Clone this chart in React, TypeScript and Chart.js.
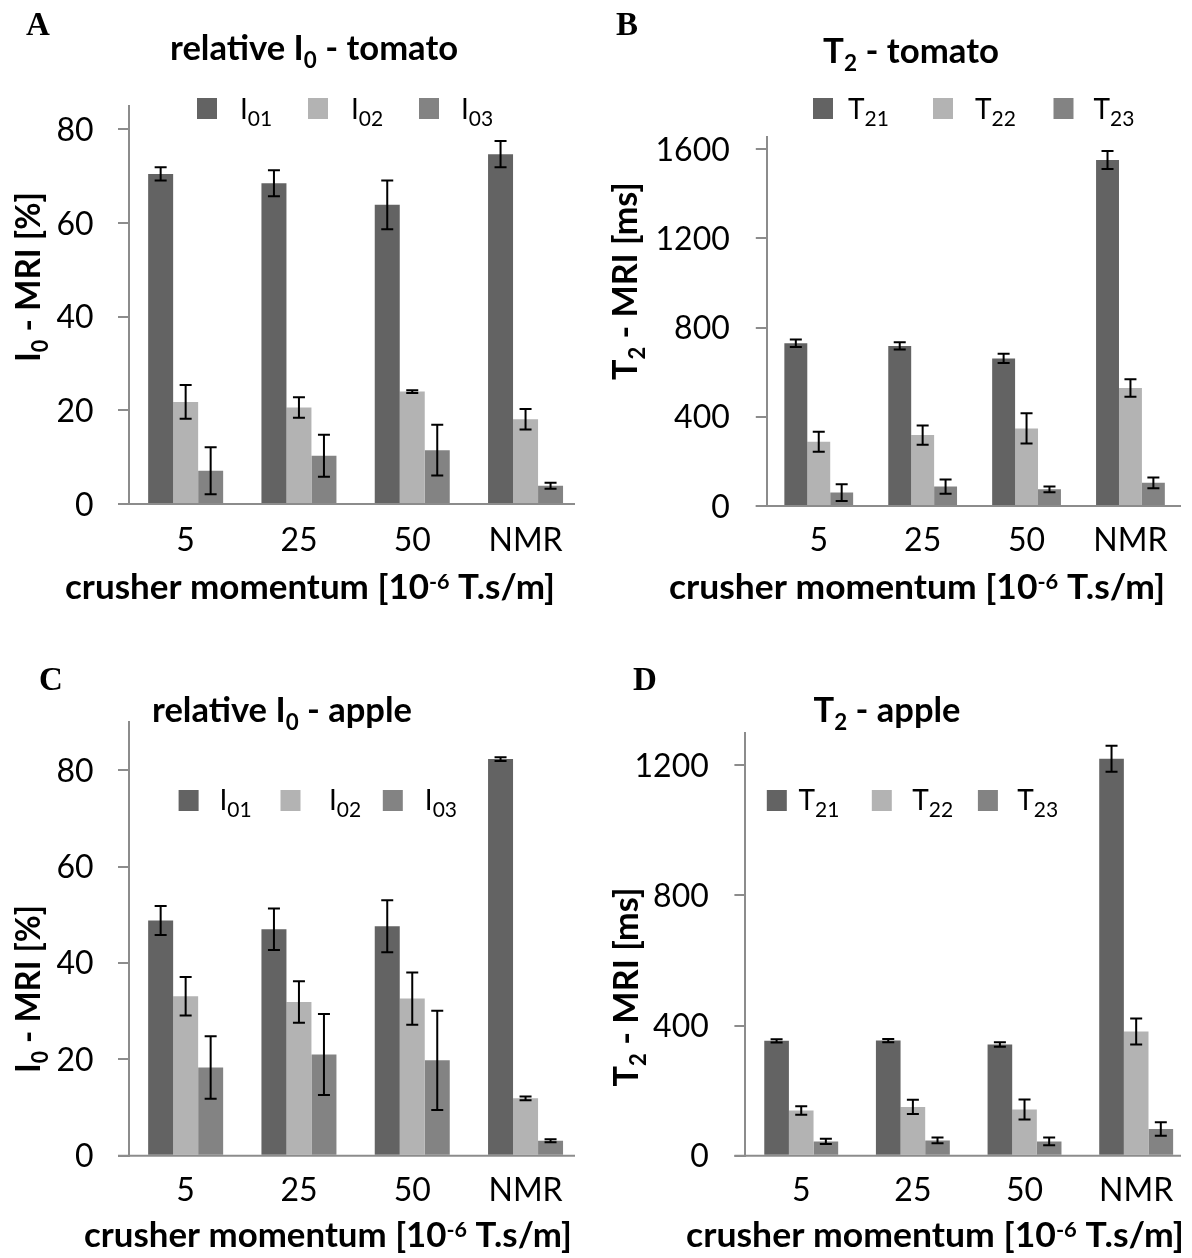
import React, { useEffect, useRef } from 'react';
import { Chart, registerables } from 'chart.js';

Chart.register(...registerables);

// ---------- data ----------
const categories = ['5', '25', '50', 'NMR'];

const tomatoI01 = [70.5, 68.5, 63.9, 74.7];
const tomatoI01Err = [1.4, 2.8, 5.2, 2.8];
const tomatoI02 = [21.8, 20.6, 24.0, 18.1];
const tomatoI02Err = [3.6, 2.2, 0.3, 2.2];
const tomatoI03 = [7.1, 10.3, 11.5, 3.9];
const tomatoI03Err = [5.0, 4.5, 5.4, 0.65];

const tomatoT21 = [730, 718, 662, 1552];
const tomatoT21Err = [17, 16, 21, 40];
const tomatoT22 = [288, 318, 348, 529];
const tomatoT22Err = [45, 43, 68, 39];
const tomatoT23 = [60, 87, 75, 104];
const tomatoT23Err = [38, 32, 13, 24];

const appleI01 = [48.8, 47.0, 47.6, 82.3];
const appleI01Err = [3.0, 4.3, 5.4, 0.4];
const appleI02 = [33.1, 31.9, 32.6, 11.9];
const appleI02Err = [4.0, 4.3, 5.4, 0.4];
const appleI03 = [18.3, 21.0, 19.8, 3.1];
const appleI03Err = [6.5, 8.4, 10.3, 0.3];

const appleT21 = [353, 354, 342, 1220];
const appleT21Err = [5, 5, 7, 40];
const appleT22 = [139, 150, 142, 382];
const appleT22Err = [13, 22, 31, 40];
const appleT23 = [44, 47, 44, 82];
const appleT23Err = [8, 9, 12, 21];

const iLegend = ['01', '02', '03'];
const tLegend = ['21', '22', '23'];

// y tick labels for each panel
const tomatoITicks = [0, 20, 40, 60, 80];
const tomatoTTicks = [0, 400, 800, 1200, 1600];
const appleITicks = [0, 20, 40, 60, 80];
const appleTTicks = [0, 400, 800, 1200];

// ---------- style ----------
const COLORS = ['#636363', '#b3b3b3', '#838383'];
const AXIS = '#8c8c8c';
const FONT = 'Lato';
const SERIF = '"Liberation Serif", "DejaVu Serif", serif';

type Seg = { t: string; size: number; bold?: boolean; dy?: number };

function segFont(s: Seg) {
  return `${s.bold ? 'bold ' : ''}${s.size}px ${FONT}`;
}
function measure(ctx: CanvasRenderingContext2D, segs: Seg[]) {
  let w = 0;
  for (const s of segs) {
    ctx.font = segFont(s);
    w += ctx.measureText(s.t).width;
  }
  return w;
}
function drawRich(
  ctx: CanvasRenderingContext2D,
  segs: Seg[],
  x: number,
  y: number,
  align: 'left' | 'center' | 'right',
  targetW?: number
) {
  const w = measure(ctx, segs);
  const sx = targetW ? targetW / w : 1;
  const total = w * sx;
  const start = align === 'left' ? x : align === 'center' ? x - total / 2 : x - total;
  ctx.save();
  ctx.translate(start, y);
  ctx.scale(sx, 1);
  ctx.textAlign = 'left';
  ctx.textBaseline = 'alphabetic';
  ctx.fillStyle = '#000';
  let cx = 0;
  for (const s of segs) {
    ctx.font = segFont(s);
    ctx.fillText(s.t, cx, s.dy || 0);
    cx += ctx.measureText(s.t).width;
  }
  ctx.restore();
}

const B = 34; // bold text size
const SUB = 22;

const titleSegs = (main: string, sub: string, rest: string): Seg[] => [
  { t: main, size: B, bold: true },
  { t: sub, size: SUB, bold: true, dy: 8 },
  { t: rest, size: B, bold: true },
];
const xTitleSegs: Seg[] = [
  { t: 'crusher momentum [10', size: B, bold: true },
  { t: '-6', size: 21, bold: true, dy: -10 },
  { t: ' T.s/m]', size: B, bold: true },
];

type Panel = {
  ox: number; oy: number; w: number; h: number;
  letter: string; letterX: number; letterY: number;
  title: Seg[]; titleX: number; titleY: number; titleW: number;
  legMain: string; legSubs: string[]; legSqX: number[]; legTxtX: number[]; legTop: number; legBase: number;
  yTitle: Seg[]; yTitleX: number; yTitleY: number; yTitleLen: number;
  xTitleX: number; xTitleY: number; xTitleW: number;
  tickRightX: number; xLabelY: number;
  axisX: number; zeroY: number; topY: number; catW: number; yMax: number; yTicks: number[]; axisEnd: number;
  series: { data: number[]; err: number[] }[];
};

const panels: Panel[] = [
  {
    ox: 0, oy: 0, w: 596, h: 629,
    letter: 'A', letterX: 26, letterY: 35,
    title: titleSegs('relative I', '0', ' - tomato'), titleX: 314, titleY: 60, titleW: 288,
    legMain: 'I', legSubs: iLegend, legSqX: [197, 308, 419], legTxtX: [240, 351, 461], legTop: 98, legBase: 119,
    yTitle: titleSegs('I', '0', ' - MRI [%]'), yTitleX: 40, yTitleY: 277, yTitleLen: 170,
    xTitleX: 310, xTitleY: 599, xTitleW: 490,
    tickRightX: 93.5, xLabelY: 551,
    axisX: 129, zeroY: 504, topY: 106, catW: 113.3, yMax: 85, yTicks: tomatoITicks, axisEnd: 575,
    series: [
      { data: tomatoI01, err: tomatoI01Err },
      { data: tomatoI02, err: tomatoI02Err },
      { data: tomatoI03, err: tomatoI03Err },
    ],
  },
  {
    ox: 596, oy: 0, w: 596, h: 629,
    letter: 'B', letterX: 616, letterY: 35,
    title: titleSegs('T', '2', ' - tomato'), titleX: 911, titleY: 63, titleW: 176,
    legMain: 'T', legSubs: tLegend, legSqX: [813, 933, 1053.5], legTxtX: [848, 975, 1093.5], legTop: 98, legBase: 119,
    yTitle: titleSegs('T', '2', ' - MRI [ms]'), yTitleX: 637, yTitleY: 281, yTitleLen: 198,
    xTitleX: 917, xTitleY: 599, xTitleW: 496,
    tickRightX: 729.8, xLabelY: 551,
    axisX: 766.8, zeroY: 506, topY: 137, catW: 103.9, yMax: 1655, yTicks: tomatoTTicks, axisEnd: 1181,
    series: [
      { data: tomatoT21, err: tomatoT21Err },
      { data: tomatoT22, err: tomatoT22Err },
      { data: tomatoT23, err: tomatoT23Err },
    ],
  },
  {
    ox: 0, oy: 629, w: 596, h: 629,
    letter: 'C', letterX: 39, letterY: 690,
    title: titleSegs('relative I', '0', ' - apple'), titleX: 282, titleY: 722, titleW: 260,
    legMain: 'I', legSubs: iLegend, legSqX: [178.6, 280.5, 382.8], legTxtX: [219.5, 329, 424.8], legTop: 790, legBase: 810,
    yTitle: titleSegs('I', '0', ' - MRI [%]'), yTitleX: 40, yTitleY: 989, yTitleLen: 168,
    xTitleX: 328, xTitleY: 1247, xTitleW: 488,
    tickRightX: 93.5, xLabelY: 1201,
    axisX: 129, zeroY: 1155.7, topY: 722, catW: 113.3, yMax: 90, yTicks: appleITicks, axisEnd: 575,
    series: [
      { data: appleI01, err: appleI01Err },
      { data: appleI02, err: appleI02Err },
      { data: appleI03, err: appleI03Err },
    ],
  },
  {
    ox: 596, oy: 629, w: 596, h: 629,
    letter: 'D', letterX: 633, letterY: 690,
    title: titleSegs('T', '2', ' - apple'), titleX: 887, titleY: 722, titleW: 147,
    legMain: 'T', legSubs: tLegend, legSqX: [766.8, 871.8, 977.9], legTxtX: [798.5, 912.2, 1017.2], legTop: 790, legBase: 810,
    yTitle: titleSegs('T', '2', ' - MRI [ms]'), yTitleX: 638, yTitleY: 987, yTitleLen: 199,
    xTitleX: 935, xTitleY: 1247, xTitleW: 498,
    tickRightX: 708.8, xLabelY: 1201,
    axisX: 745.4, zeroY: 1155.7, topY: 732.7, catW: 113.6, yMax: 1300, yTicks: appleTTicks, axisEnd: 1181,
    series: [
      { data: appleT21, err: appleT21Err },
      { data: appleT22, err: appleT22Err },
      { data: appleT23, err: appleT23Err },
    ],
  },
];

function makePlugins(p: Panel) {
  const CAP = 6;
  const errPlugin = {
    id: 'errbars' + p.letter,
    afterDatasetsDraw(chart: any) {
      const ctx: CanvasRenderingContext2D = chart.ctx;
      const ys = chart.scales.y;
      ctx.save();
      ctx.strokeStyle = '#000';
      ctx.lineWidth = 2;
      p.series.forEach((s, di) => {
        const meta = chart.getDatasetMeta(di);
        meta.data.forEach((bar: any, i: number) => {
          const v = s.data[i];
          const e = s.err[i];
          const x = bar.x;
          const yt = ys.getPixelForValue(v + e);
          const yb = ys.getPixelForValue(v - e);
          ctx.beginPath();
          ctx.moveTo(x, yt);
          ctx.lineTo(x, yb);
          ctx.moveTo(x - CAP, yt);
          ctx.lineTo(x + CAP, yt);
          ctx.moveTo(x - CAP, yb);
          ctx.lineTo(x + CAP, yb);
          ctx.stroke();
        });
      });
      // horizontal axis line
      const y0 = ys.getPixelForValue(0);
      ctx.strokeStyle = AXIS;
      ctx.lineWidth = 2;
      ctx.beginPath();
      ctx.moveTo(chart.chartArea.left - 11, y0);
      ctx.lineTo(Math.min(p.axisEnd - p.ox, chart.chartArea.right), y0);
      ctx.stroke();
      ctx.restore();
    },
  };
  const textPlugin = {
    id: 'texts' + p.letter,
    afterDraw(chart: any) {
      const ctx: CanvasRenderingContext2D = chart.ctx;
      const ox = p.ox;
      const oy = p.oy;
      ctx.save();
      // panel letter
      ctx.font = `bold 33px ${SERIF}`;
      ctx.fillStyle = '#000';
      ctx.textAlign = 'left';
      ctx.textBaseline = 'alphabetic';
      ctx.fillText(p.letter, p.letterX - ox, p.letterY - oy);
      // title
      drawRich(ctx, p.title, p.titleX - ox, p.titleY - oy, 'center', p.titleW);
      // legend
      p.legSubs.forEach((sub, i) => {
        ctx.fillStyle = COLORS[i];
        ctx.fillRect(p.legSqX[i] - ox, p.legTop - oy, 20, 21);
        drawRich(
          ctx,
          [
            { t: p.legMain, size: 28 },
            { t: sub, size: 21, dy: 7 },
          ],
          p.legTxtX[i] - ox,
          p.legBase - oy,
          'left'
        );
      });
      // y tick labels
      const ys = chart.scales.y;
      ys.ticks.forEach((t: any) => {
        const py = ys.getPixelForValue(t.value);
        drawRich(ctx, [{ t: String(t.value), size: 32 }], p.tickRightX - ox, py + 11.5, 'right');
      });
      // x tick labels
      const xs = chart.scales.x;
      categories.forEach((c, i) => {
        const px = xs.getPixelForValue(i);
        drawRich(ctx, [{ t: c, size: 32 }], px, p.xLabelY - oy, 'center');
      });
      // x title
      drawRich(ctx, xTitleSegs, p.xTitleX - ox, p.xTitleY - oy, 'center', p.xTitleW);
      // y title (rotated)
      ctx.save();
      ctx.translate(p.yTitleX - ox, p.yTitleY - oy);
      ctx.rotate(-Math.PI / 2);
      drawRich(ctx, p.yTitle, 0, 0, 'center', p.yTitleLen);
      ctx.restore();
      ctx.restore();
    },
  };
  return [errPlugin, textPlugin];
}

function PanelChart({ p }: { p: Panel }) {
  const ref = useRef<HTMLCanvasElement>(null);
  useEffect(() => {
    const canvas = ref.current!;
    const left = p.axisX - p.ox;
    const right = p.w - (p.axisX + 4 * p.catW - p.ox);
    const top = p.topY - p.oy;
    const bottom = p.h - (p.zeroY - p.oy);
    const seriesNames = p.legSubs.map((s) => p.legMain + s);
    const chart = new Chart(canvas, {
      type: 'bar',
      data: {
        labels: categories,
        datasets: p.series.map((s, i) => ({
          label: seriesNames[i],
          data: s.data,
          backgroundColor: COLORS[i],
          borderWidth: 0,
          categoryPercentage: 0.662,
          barPercentage: 1,
        })),
      },
      options: {
        responsive: false,
        animation: false,
        devicePixelRatio: 1,
        layout: { padding: { left, right, top, bottom } },
        plugins: {
          legend: { display: false },
          title: { display: false },
          tooltip: { enabled: false },
        },
        scales: {
          x: {
            display: false,
          },
          y: {
            min: 0,
            max: p.yMax,
            grid: {
              display: true,
              drawOnChartArea: false,
              drawTicks: true,
              tickLength: 11,
              color: AXIS,
              lineWidth: 2,
            },
            border: { display: true, color: AXIS, width: 2 },
            ticks: { display: false },
            afterBuildTicks: (scale: any) => {
              scale.ticks = p.yTicks.map((v) => ({ value: v }));
            },
            afterFit: (scale: any) => {
              scale.width = 0;
            },
          },
        },
      } as any,
      plugins: makePlugins(p) as any,
    });
    return () => chart.destroy();
  }, [p]);
  return (
    <canvas
      ref={ref}
      width={p.w}
      height={p.h}
      style={{ position: 'absolute', left: p.ox, top: p.oy, width: p.w, height: p.h }}
    />
  );
}

export default function App() {
  return (
    <div
      style={{
        position: 'absolute',
        left: 0,
        top: 0,
        width: 1192,
        height: 1258,
        background: '#fff',
        overflow: 'hidden',
      }}
    >
      {panels.map((p) => (
        <PanelChart key={p.letter} p={p} />
      ))}
    </div>
  );
}
